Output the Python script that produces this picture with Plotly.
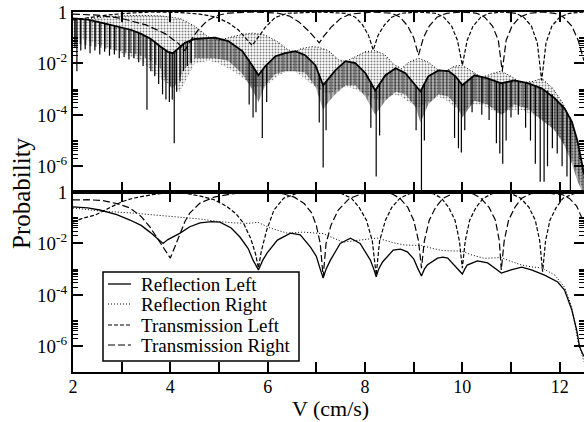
import numpy as np
import plotly.graph_objects as go

# ---------------- data (log10 of probability) ----------------
# Bottom panel
rl_bot_v = [2.0,2.3,2.55,2.9,3.17,3.4,3.58,3.72,3.85,3.95,4.2,4.4,4.61,4.85,5.02,5.25,5.43,5.6,5.7,5.81,5.9,5.99,6.2,6.47,6.67,6.88,7.0,7.08,7.14,7.2,7.29,7.49,7.7,7.9,8.11,8.18,8.23,8.28,8.36,8.58,8.73,8.87,9.0,9.08,9.16,9.22,9.28,9.49,9.6,9.7,9.9,10.0,10.05,10.1,10.31,10.52,10.72,10.8,11.0,11.22,11.42,11.69,11.96,12.1,12.25,12.35,12.41,12.47,12.5]
rl_bot_p = [-0.58,-0.62,-0.70,-0.88,-1.09,-1.3,-1.56,-1.8,-2.0,-1.85,-1.6,-1.35,-1.2,-1.15,-1.17,-1.4,-1.75,-2.2,-2.65,-3.03,-2.65,-2.37,-1.87,-1.6,-1.67,-2.14,-2.5,-3.0,-3.35,-3.0,-2.65,-2.0,-1.8,-2.0,-2.65,-3.0,-3.3,-3.0,-2.72,-2.26,-2.22,-2.33,-2.6,-2.95,-3.27,-3.0,-2.84,-2.57,-2.53,-2.57,-2.96,-3.19,-3.0,-2.84,-2.68,-2.76,-3.03,-3.15,-3.03,-2.92,-3.03,-3.23,-3.5,-3.81,-4.59,-5.37,-6.03,-6.26,-6.4]

rr_bot_v = [2.0,2.55,3.24,3.93,4.61,5.0,5.3,5.6,5.8,6.05,6.4,6.73,7.0,7.14,7.3,7.55,7.9,8.25,8.45,8.6,8.81,9.16,9.4,9.6,9.98,10.2,10.45,10.8,11.0,11.22,11.45,11.63,11.9,12.1,12.25,12.37,12.47,12.5]
rr_bot_p = [-0.62,-0.74,-0.82,-0.93,-1.05,-1.15,-1.2,-1.22,-1.18,-1.4,-1.6,-1.56,-1.6,-1.62,-1.75,-1.95,-1.87,-1.79,-1.9,-1.98,-2.06,-2.08,-2.2,-2.28,-2.3,-2.45,-2.58,-2.55,-2.7,-2.84,-2.92,-2.95,-3.23,-3.7,-4.47,-5.76,-6.4,-6.6]

tl_bot_v = [2.0,2.2,2.45,2.77,3.0,3.24,3.7,4.0,4.3,4.6,4.9,5.15,5.35,5.5,5.65,5.75,5.81,5.87,5.98,6.13,6.33,6.62,7.14,7.5,7.72,7.88,8.03,8.15,8.23,8.3,8.42,8.55,8.72,8.92,9.16,9.4,9.57,9.72,9.85,9.94,10.0,10.06,10.15,10.28,10.43,10.62,10.8,11.0,11.2,11.37,11.5,11.59,11.65,11.71,11.8,11.93,12.07,12.3,12.5]
tl_bot_p = [-1.17,-1.02,-0.9,-0.58,-0.38,-0.24,-0.08,-0.02,-0.05,-0.15,-0.3,-0.55,-0.85,-1.2,-1.8,-2.4,-2.96,-2.3,-1.48,-0.7,-0.24,-0.04,0.0,-0.05,-0.24,-0.6,-1.1,-1.9,-3.23,-1.9,-1.1,-0.6,-0.24,-0.06,0.0,-0.06,-0.24,-0.6,-1.1,-1.9,-2.96,-1.9,-1.1,-0.6,-0.24,-0.06,0.0,-0.06,-0.24,-0.6,-1.1,-1.9,-3.1,-1.9,-1.1,-0.6,-0.24,-0.06,-0.02]

tr_bot_v = [2.0,2.3,2.6,2.9,3.17,3.4,3.58,3.75,3.9,4.0,4.1,4.2,4.3,4.4,4.61,4.9,5.3,5.81,6.3,6.55,6.75,6.9,7.0,7.08,7.14,7.2,7.3,7.45,7.68,7.95,8.23,8.55,8.72,8.88,9.0,9.1,9.16,9.22,9.32,9.45,9.6,9.8,10.0,10.22,10.38,10.55,10.68,10.76,10.8,10.86,10.95,11.08,11.22,11.42,11.65,11.88,12.05,12.2,12.35,12.5]
tr_bot_p = [-0.31,-0.3,-0.33,-0.45,-0.62,-0.95,-1.36,-1.85,-2.3,-2.57,-2.1,-1.6,-1.15,-0.82,-0.43,-0.2,-0.06,-0.01,-0.06,-0.2,-0.45,-0.8,-1.3,-2.0,-3.3,-2.0,-1.3,-0.7,-0.25,-0.06,0.0,-0.07,-0.25,-0.6,-1.1,-1.9,-2.96,-1.9,-1.1,-0.6,-0.25,-0.06,0.0,-0.07,-0.24,-0.6,-1.1,-1.9,-3.03,-1.9,-1.1,-0.6,-0.24,-0.06,0.0,-0.07,-0.1,-0.25,-0.55,-1.2]

# Top panel: reflection left (fast oscillation) - upper edge / dense-band lower edge
rl_top_v  = [2.0,2.3,2.6,2.9,3.2,3.4,3.6,3.8,3.95,4.05,4.15,4.3,4.5,4.92,5.19,5.48,5.68,5.81,5.95,6.16,6.36,6.57,6.77,6.98,7.14,7.25,7.39,7.6,7.8,8.01,8.21,8.42,8.63,8.83,9.04,9.14,9.3,9.51,9.72,9.86,10.0,10.25,10.52,10.8,11.07,11.34,11.63,11.9,12.1,12.25,12.37,12.47,12.5]
rl_top_hi = [-0.25,-0.3,-0.42,-0.55,-0.7,-0.85,-1.05,-1.35,-1.55,-1.6,-1.45,-1.2,-1.05,-1.0,-1.13,-1.52,-2.07,-2.46,-2.11,-1.72,-1.6,-1.52,-1.68,-2.07,-2.85,-2.6,-2.27,-1.91,-1.99,-2.38,-3.05,-2.46,-2.19,-2.38,-2.89,-3.09,-2.5,-2.27,-2.3,-2.5,-2.85,-2.46,-2.58,-2.77,-2.66,-2.77,-2.97,-3.36,-3.75,-4.26,-5.04,-5.98,-6.3]
rl_top_lo = [-1.2,-1.3,-1.4,-1.5,-1.6,-1.7,-1.9,-2.2,-2.8,-3.0,-2.7,-2.2,-1.8,-1.8,-1.9,-2.4,-3.0,-3.5,-2.85,-2.4,-2.3,-2.3,-2.35,-2.9,-3.8,-3.5,-3.2,-2.85,-2.85,-3.3,-4.0,-3.45,-3.1,-3.2,-3.7,-4.3,-3.6,-3.2,-3.3,-3.6,-4.1,-3.45,-3.6,-4.0,-3.6,-3.75,-4.2,-4.6,-5.2,-5.9,-6.6,-7.0,-7.0]

# individual deep spikes of reflection left (top panel): position, top, bottom
sp_v   = [2.04,2.08,2.16,2.25,2.35,2.45,2.55,2.65,2.75,2.85,2.95,3.05,3.15,3.25,3.35,3.44,3.52,3.6,3.68,3.76,3.84,3.91,3.98,4.04,4.08,4.13,4.2,4.27,4.35,4.43,
          5.62,5.7,5.76,5.89,5.98,7.06,7.14,7.2,8.12,8.23,8.3,9.05,9.16,9.22,9.84,9.92,9.98,10.05,10.2,10.4,10.55,10.7,10.77,10.83,10.9,11.0,11.15,11.3,11.4,11.5,11.6,11.68,11.75,11.85,11.95,12.05,12.15,12.22]
sp_top = [-0.27,-0.28,-0.28,-0.3,-0.32,-0.35,-0.4,-0.43,-0.48,-0.53,-0.57,-0.62,-0.67,-0.73,-0.8,-0.87,-0.95,-1.05,-1.15,-1.28,-1.4,-1.5,-1.55,-1.6,-1.58,-1.48,-1.35,-1.25,-1.15,-1.1,
          -1.85,-2.1,-2.3,-2.3,-2.1,-2.4,-2.85,-2.7,-2.7,-3.0,-2.8,-2.9,-3.0,-2.8,-2.5,-2.6,-2.8,-2.8,-2.5,-2.5,-2.6,-2.7,-2.75,-2.77,-2.75,-2.7,-2.7,-2.75,-2.78,-2.85,-2.95,-3.0,-3.05,-3.2,-3.4,-3.6,-3.9,-4.1]
sp_bot = [-1.4,-2.3,-1.5,-1.45,-1.6,-1.5,-1.65,-1.55,-1.7,-1.65,-1.8,-1.75,-1.85,-1.8,-1.95,-2.1,-3.8,-2.3,-2.5,-2.8,-3.2,-3.4,-3.5,-3.4,-5.1,-3.1,-2.7,-2.3,-2.1,-2.0,
          -3.6,-4.1,-3.9,-4.9,-3.5,-4.3,-6.05,-4.6,-4.5,-6.4,-4.8,-4.6,-7.0,-5.0,-4.9,-5.3,-5.46,-4.6,-3.9,-4.0,-4.2,-5.1,-5.5,-5.9,-5.0,-4.1,-4.0,-4.5,-5.0,-5.9,-6.6,-6.6,-6.0,-5.3,-5.5,-6.0,-6.4,-7.0]

# Top panel: reflection right (fast oscillation region) upper / lower edge
rr_top_v  = [2.0,2.3,2.6,3.0,3.4,3.8,4.2,4.5,4.8,5.0,5.2,5.45,5.7,5.95,6.2,6.4,6.55,6.7,6.9,7.05,7.25,7.45,7.6,7.8,8.0,8.2,8.4,8.6,8.75,8.9,9.1,9.3,9.5,9.65,9.85,10.0,10.2,10.4,10.6,10.8,11.0,11.2,11.45,11.63,11.85,12.05,12.25,12.4,12.5]
rr_top_hi = [-0.3,-0.28,-0.2,-0.15,-0.13,-0.15,-0.25,-0.55,-1.0,-1.1,-1.0,-0.88,-0.82,-0.9,-1.15,-1.45,-1.55,-1.42,-1.35,-1.37,-1.5,-1.85,-1.93,-1.75,-1.55,-1.5,-1.65,-2.05,-2.2,-1.95,-1.8,-1.95,-2.25,-2.3,-2.1,-2.07,-2.3,-2.55,-2.4,-2.3,-2.5,-2.75,-2.7,-2.58,-2.95,-3.5,-4.3,-5.5,-6.5]
rr_top_lo = [-1.0,-1.1,-1.3,-1.6,-1.9,-2.6,-3.1,-2.0,-1.9,-2.0,-2.2,-2.5,-2.9,-2.9,-2.5,-2.3,-2.3,-2.5,-2.8,-3.0,-3.2,-3.0,-2.9,-3.0,-3.2,-3.4,-3.4,-3.2,-3.3,-3.5,-3.7,-3.5,-3.3,-3.4,-3.7,-3.9,-3.6,-3.6,-3.8,-4.0,-3.8,-3.8,-4.0,-4.2,-4.5,-5.0,-5.7,-6.5,-7.0]

# Top panel: transmissions
tl_top_v = [2.0,2.3,2.7,3.1,3.6,4.2,4.6,4.95,5.2,5.4,5.55,5.68,5.8,5.95,6.15,6.4,7.06,7.6,7.8,7.95,8.07,8.17,8.27,8.4,8.55,8.75,9.1,9.45,9.62,9.78,9.9,10.0,10.1,10.22,10.38,10.55,10.82,11.1,11.26,11.42,11.54,11.63,11.72,11.84,12.0,12.2,12.5]
tl_top_p = [-0.31,-0.22,-0.12,-0.05,0.0,-0.02,-0.08,-0.2,-0.43,-0.7,-1.0,-1.3,-1.0,-0.6,-0.22,-0.05,0.0,-0.05,-0.2,-0.5,-0.9,-1.48,-0.9,-0.5,-0.2,-0.05,0.0,-0.05,-0.2,-0.55,-1.1,-2.07,-1.1,-0.55,-0.2,-0.05,0.0,-0.05,-0.2,-0.55,-1.2,-2.66,-1.2,-0.55,-0.2,-0.05,0.0]

tr_top_v = [2.0,2.5,3.0,3.5,3.9,4.15,4.3,4.42,4.55,4.75,4.95,5.2,5.68,6.2,6.45,6.65,6.85,6.97,7.06,7.15,7.3,7.5,7.7,8.17,8.55,8.72,8.88,9.0,9.1,9.2,9.32,9.48,9.68,10.0,10.3,10.46,10.62,10.74,10.82,10.9,11.02,11.18,11.38,11.63,11.9,12.08,12.25,12.38,12.5]
tr_top_p = [-0.08,-0.12,-0.25,-0.5,-0.85,-1.2,-1.5,-1.1,-0.75,-0.35,-0.14,-0.04,0.0,-0.04,-0.16,-0.4,-0.75,-1.0,-1.2,-0.95,-0.6,-0.25,-0.08,0.0,-0.05,-0.2,-0.55,-1.0,-1.68,-1.0,-0.55,-0.2,-0.05,0.0,-0.05,-0.2,-0.55,-1.1,-2.3,-1.1,-0.55,-0.2,-0.05,0.0,-0.05,-0.2,-0.55,-1.1,-1.9]

# axes ticks
x_major = [2, 4, 6, 8, 10, 12]
x_minor = [3, 5, 7, 9, 11]
y_major_exp = [0, -2, -4, -6]
y_major_text = ["1", "10<sup>-2</sup>", "10<sup>-4</sup>", "10<sup>-6</sup>"]
y_minor_exp = [-2, -4, -6]
y_minor_mult = [2, 3, 4, 5, 6, 7, 8, 9, 10]

legend_labels = ["Reflection Left", "Reflection Right", "Transmission Left", "Transmission Right"]

# ---------------- figure ----------------
P = lambda a: np.power(10.0, np.asarray(a, dtype=float))
FONT = "Liberation Serif"
DASH_L = "4px,2px"
DASH_R = "7px,3px"
DOT = "1px,2px"
styles = [dict(width=1.3), dict(width=1, dash=DOT), dict(width=1.2, dash=DASH_L), dict(width=1.2, dash=DASH_R)]

fig = go.Figure()

# --- top panel ---
fig.add_trace(go.Scatter(
    x=list(rr_top_v) + list(rr_top_v[::-1]),
    y=list(P(rr_top_hi)) + list(P(rr_top_lo[::-1])),
    xaxis="x", yaxis="y", mode="none", fill="toself",
    fillpattern=dict(shape=".", size=3, solidity=0.35, fgcolor="black", bgcolor="rgba(0,0,0,0)"),
    showlegend=False, hoverinfo="skip"))
fig.add_trace(go.Scatter(x=rr_top_v, y=P(rr_top_hi), xaxis="x", yaxis="y", mode="lines",
                         line=dict(color="black", **styles[1]), showlegend=False))

split = sum(1 for v in rl_top_v if v <= 4.5)
for a, b, size, sol in [(0, split, 5, 0.4), (split - 1, len(rl_top_v), 4, 0.8)]:
    vv = rl_top_v[a:b]
    hi = rl_top_hi[a:b]
    lo = rl_top_lo[a:b]
    fig.add_trace(go.Scatter(
        x=list(vv) + list(vv[::-1]),
        y=list(P(hi)) + list(P(lo[::-1])),
        xaxis="x", yaxis="y", mode="none", fill="toself",
        fillpattern=dict(shape="|", size=size, solidity=sol, fgcolor="black", bgcolor="rgba(0,0,0,0)"),
        showlegend=False, hoverinfo="skip"))
fig.add_trace(go.Scatter(x=rl_top_v, y=P(rl_top_hi), xaxis="x", yaxis="y", mode="lines",
                         line=dict(color="black", width=1.8), showlegend=False))
sx, sy = [], []
for v, t, b in zip(sp_v, sp_top, sp_bot):
    sx += [v, v, None]
    sy += [10.0 ** t, 10.0 ** b, None]
fig.add_trace(go.Scatter(x=sx, y=sy, xaxis="x", yaxis="y", mode="lines",
                         line=dict(color="black", width=1.2), showlegend=False))

fig.add_trace(go.Scatter(x=tl_top_v, y=P(tl_top_p), xaxis="x", yaxis="y", mode="lines",
                         line=dict(color="black", **styles[2]), showlegend=False))
fig.add_trace(go.Scatter(x=tr_top_v, y=P(tr_top_p), xaxis="x", yaxis="y", mode="lines",
                         line=dict(color="black", **styles[3]), showlegend=False))

# --- bottom panel ---
for (vx, py), name, st in zip([(rl_bot_v, rl_bot_p), (rr_bot_v, rr_bot_p), (tl_bot_v, tl_bot_p), (tr_bot_v, tr_bot_p)],
                              legend_labels, styles):
    fig.add_trace(go.Scatter(x=vx, y=P(py), xaxis="x2", yaxis="y2", mode="lines", name=name,
                             line=dict(color="black", **st), showlegend=False))

# dummy traces for right-side mirrored tick axes
fig.add_trace(go.Scatter(x=[None], y=[None], xaxis="x", yaxis="y3", showlegend=False))
fig.add_trace(go.Scatter(x=[None], y=[None], xaxis="x2", yaxis="y4", showlegend=False))

ytickvals = [10.0 ** e for e in y_major_exp]
yminor = [m * 10.0 ** e for e in y_minor_exp for m in y_minor_mult]

def xax(show_labels):
    return dict(range=[2, 12.5], domain=[0, 1], tickmode="array", tickvals=x_major,
                ticks="inside", ticklen=10, tickwidth=1.5, tickcolor="black",
                minor=dict(tickmode="array", tickvals=x_minor, ticks="inside", ticklen=5,
                           tickwidth=1.5, tickcolor="black"),
                showline=True, linewidth=2, linecolor="black", mirror="allticks",
                showgrid=False, zeroline=False, showticklabels=show_labels,
                ticklabelstandoff=-3,
                tickfont=dict(family=FONT, size=18, color="black"))

def yax(dom, anchor, overlay=None):
    d = dict(type="log", range=[-7, 0], domain=dom, anchor=anchor, tickmode="array",
             tickvals=ytickvals, ticktext=y_major_text,
             ticks="inside", ticklen=10, tickwidth=1.5, tickcolor="black",
             minor=dict(tickmode="array", tickvals=yminor, ticks="inside", ticklen=5,
                        tickwidth=1, tickcolor="black"),
             showgrid=False, zeroline=False,
             tickfont=dict(family=FONT, size=19, color="black"))
    if overlay:
        d.update(overlaying=overlay, side="right", showline=False, showticklabels=False)
    else:
        d.update(showline=True, linewidth=2, linecolor="black", mirror=False)
    return d

# hand-placed legend box (pixel layout -> paper coordinates)
def px(xp):
    return (xp - 73) / 511.0
def py_(ypix):
    return (372 - ypix) / 360.0

shapes = [dict(type="rect", xref="paper", yref="paper", x0=px(103), x1=px(299), y0=py_(361), y1=py_(272),
               line=dict(color="black", width=1.5), fillcolor="white", layer="above")]
annotations = []
for lab, st, rowy in zip(legend_labels, styles, [284, 304, 325, 345]):
    shapes.append(dict(type="line", xref="paper", yref="paper", x0=px(108), x1=px(131),
                       y0=py_(rowy), y1=py_(rowy), layer="above",
                       line=dict(color="black", width=st["width"], dash=st.get("dash", "solid"))))
    annotations.append(dict(text=lab, xref="paper", yref="paper", x=px(139), y=py_(rowy),
                            xanchor="left", yanchor="middle", showarrow=False,
                            font=dict(family=FONT, size=19, color="black")))

annotations += [
    dict(text="Probability", xref="paper", yref="paper", x=px(21), y=py_(193),
         xanchor="center", yanchor="middle", textangle=-90, showarrow=False,
         font=dict(family=FONT, size=25, color="black")),
    dict(text="V (cm/s)", xref="paper", yref="paper", x=px(330), y=py_(408),
         xanchor="center", yanchor="middle", showarrow=False,
         font=dict(family=FONT, size=22, color="black")),
]

fig.update_layout(
    width=584, height=422,
    margin=dict(l=73, r=0, t=12, b=50),
    paper_bgcolor="white", plot_bgcolor="white",
    showlegend=False,
    xaxis=dict(xax(False), anchor="y"),
    xaxis2=dict(xax(True), anchor="y2"),
    yaxis=yax([0.5, 1], "x"),
    yaxis2=yax([0, 0.5], "x2"),
    yaxis3=yax([0.5, 1], "x", overlay="y"),
    yaxis4=yax([0, 0.5], "x2", overlay="y2"),
    shapes=shapes,
    annotations=annotations,
)

fig.write_html("out.html")
